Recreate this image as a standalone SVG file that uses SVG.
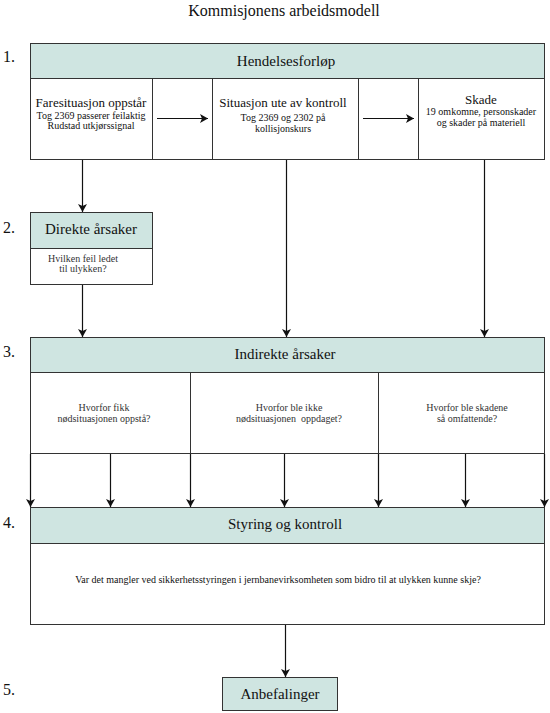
<svg xmlns="http://www.w3.org/2000/svg" width="550" height="713" viewBox="0 0 550 713">
<style>
text{font-family:"Liberation Serif","Times New Roman",serif;fill:#111;}
.t{font-size:16px;text-anchor:middle;}
.n{font-size:16px;}
.h{font-size:15px;text-anchor:middle;}
.s{font-size:13px;text-anchor:middle;}
.x{font-size:10px;text-anchor:middle;}
.g{font-size:10px;text-anchor:middle;fill:#333;}
.hd{fill:#cfe5e1;stroke:#333;stroke-width:1;}
.bd{fill:#fff;stroke:#333;stroke-width:1;}
.ln{fill:none;stroke:#333;stroke-width:1;}
.c{fill:none;stroke:#111;stroke-width:1.2;marker-end:url(#ah);}
</style>
<defs>
<marker id="ah" markerUnits="userSpaceOnUse" markerWidth="8" markerHeight="9" viewBox="0 0 8 9" refX="8" refY="4.5" orient="auto">
<path d="M0,0 L8,4.5 L0,9 L2,4.5 Z" fill="#111"/>
</marker>
</defs>
<rect width="550" height="713" fill="#fff"/>
<text class="t" x="284" y="16">Kommisjonens arbeidsmodell</text>
<g id="labels">
<text class="n" x="3" y="62">1.</text>
<text class="n" x="3" y="233">2.</text>
<text class="n" x="3" y="357">3.</text>
<text class="n" x="3" y="528">4.</text>
<text class="n" x="3" y="695">5.</text>
</g>
<g id="hendelsesforlop">
<rect class="bd" x="30.5" y="43.5" width="514" height="116"/>
<rect class="hd" x="30.5" y="43.5" width="514" height="35"/>
<line class="ln" x1="152.5" y1="78.5" x2="152.5" y2="159.5"/>
<line class="ln" x1="212.5" y1="78.5" x2="212.5" y2="159.5"/>
<line class="ln" x1="358.5" y1="78.5" x2="358.5" y2="159.5"/>
<line class="ln" x1="418.5" y1="78.5" x2="418.5" y2="159.5"/>
<text class="h" x="286" y="66">Hendelsesforløp</text>
<text class="s" x="91" y="107">Faresituasjon oppstår</text>
<text class="x" x="91" y="118.5">Tog 2369 passerer feilaktig</text>
<text class="x" x="91" y="129">Rudstad utkjørssignal</text>
<text class="s" x="283" y="107">Situasjon ute av kontroll</text>
<text class="x" x="283" y="120.5">Tog 2369 og 2302 på</text>
<text class="x" x="283" y="131.5">kollisjonskurs</text>
<text class="s" x="481" y="104">Skade</text>
<text class="x" x="481" y="115">19 omkomne, personskader</text>
<text class="x" x="481" y="126">og skader på materiell</text>
</g>
<g id="direkte">
<rect class="bd" x="30.5" y="212.5" width="122" height="72"/>
<rect class="hd" x="30.5" y="212.5" width="122" height="36"/>
<text class="h" x="91" y="234">Direkte årsaker</text>
<text class="g" x="83" y="262">Hvilken feil ledet</text>
<text class="g" x="83" y="272">til ulykken?</text>
</g>
<g id="indirekte">
<rect class="bd" x="30.5" y="337.5" width="514" height="116"/>
<rect class="hd" x="30.5" y="337.5" width="514" height="35"/>
<line class="ln" x1="190.5" y1="372.5" x2="190.5" y2="453.5"/>
<line class="ln" x1="378.5" y1="372.5" x2="378.5" y2="453.5"/>
<text class="h" x="285" y="359">Indirekte årsaker</text>
<text class="g" x="104" y="411">Hvorfor fikk</text>
<text class="g" x="104" y="422">nødsituasjonen oppstå?</text>
<text class="g" x="289" y="411">Hvorfor ble ikke</text>
<text class="g" x="289" y="422" xml:space="preserve">nødsituasjonen  oppdaget?</text>
<text class="g" x="467" y="411">Hvorfor ble skadene</text>
<text class="g" x="467" y="422">så omfattende?</text>
</g>
<g id="styring">
<rect class="bd" x="30.5" y="507.5" width="514" height="117"/>
<rect class="hd" x="30.5" y="507.5" width="514" height="36"/>
<text class="h" x="285" y="529">Styring og kontroll</text>
<text class="x" x="278" y="583">Var det mangler ved sikkerhetsstyringen i jernbanevirksomheten som bidro til at ulykken kunne skje?</text>
</g>
<g id="anbefalinger">
<rect class="hd" x="222.5" y="677.5" width="115" height="33"/>
<text class="h" x="280" y="699">Anbefalinger</text>
</g>
<g id="connectors">
<line class="c" x1="157" y1="118.5" x2="208" y2="118.5"/>
<line class="c" x1="363" y1="118.5" x2="414" y2="118.5"/>
<line class="c" x1="82.5" y1="160" x2="82.5" y2="212"/>
<line class="c" x1="82.5" y1="285" x2="82.5" y2="337"/>
<line class="c" x1="286.5" y1="160" x2="286.5" y2="337"/>
<line class="c" x1="484.5" y1="160" x2="484.5" y2="337"/>
<line class="c" x1="30.5" y1="454" x2="30.5" y2="507"/>
<line class="c" x1="110.5" y1="454" x2="110.5" y2="507"/>
<line class="c" x1="190.5" y1="454" x2="190.5" y2="507"/>
<line class="c" x1="284.5" y1="454" x2="284.5" y2="507"/>
<line class="c" x1="378.5" y1="454" x2="378.5" y2="507"/>
<line class="c" x1="465.5" y1="454" x2="465.5" y2="507"/>
<line class="c" x1="544.5" y1="454" x2="544.5" y2="507"/>
<line class="c" x1="285.5" y1="625" x2="285.5" y2="677"/>
</g>
</svg>
